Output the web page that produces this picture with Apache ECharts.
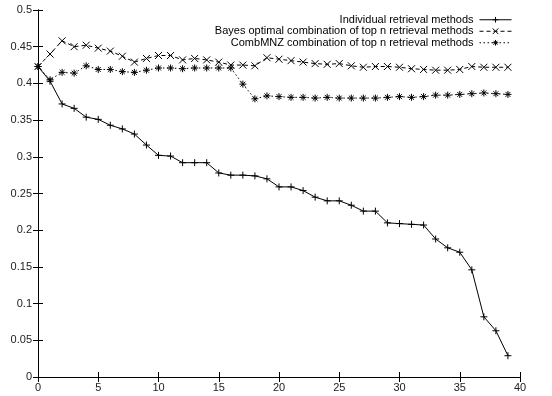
<!DOCTYPE html>
<html>
<head>
<meta charset="utf-8">
<script src="https://cdn.jsdelivr.net/npm/echarts@6/dist/echarts.min.js"></script>
<style>html,body{margin:0;padding:0;background:#fff}#c{width:552px;height:396px}</style>
</head>
<body>
<div id="c"></div>
<script>
var xValues = [0,1,2,3,4,5,6,7,8,9,10,11,12,13,14,15,16,17,18,19,20,21,22,23,24,25,26,27,28,29,30,31,32,33,34,35,36,37,38,39];
var individual = [0.423,0.403,0.372,0.366,0.354,0.351,0.343,0.338,0.331,0.316,0.302,0.301,0.292,0.292,0.292,0.278,0.275,0.275,0.274,0.270,0.259,0.259,0.254,0.245,0.240,0.240,0.234,0.226,0.226,0.210,0.209,0.208,0.207,0.188,0.176,0.170,0.146,0.082,0.063,0.029];
var bayes = [0.423,0.440,0.458,0.450,0.452,0.448,0.444,0.437,0.429,0.434,0.438,0.438,0.432,0.434,0.432,0.429,0.425,0.425,0.424,0.435,0.433,0.431,0.429,0.427,0.426,0.427,0.424,0.422,0.423,0.423,0.422,0.420,0.419,0.418,0.418,0.419,0.423,0.422,0.422,0.422];
var combMNZ = [0.423,0.405,0.415,0.414,0.424,0.419,0.419,0.416,0.415,0.418,0.421,0.421,0.420,0.421,0.421,0.421,0.421,0.399,0.379,0.383,0.382,0.381,0.381,0.380,0.381,0.380,0.380,0.380,0.380,0.381,0.382,0.381,0.382,0.384,0.384,0.385,0.386,0.387,0.386,0.385];
var seriesNames = ['Individual retrieval methods','Bayes optimal combination of top n retrieval methods','CombMNZ combination of top n retrieval methods'];

function pairs(arr){ return arr.map(function(v,i){ return [xValues[i], v]; }); }

var FONT = 'Liberation Sans';
var plusPath = 'path://M0,5L10,5M5,0L5,10';
var crossPath = 'path://M1,1L9,9M9,1L1,9';
var starPath = 'path://M0,5L10,5M5,0L5,10M1.5,1.5L8.5,8.5M8.5,1.5L1.5,8.5';

function mkSeries(name, data, symbol, dash){
  return {
    name: name, type: 'line', data: pairs(data),
    symbol: symbol, symbolSize: 7, showSymbol: true,
    itemStyle: {color: '#000', borderColor: '#000', borderWidth: 1},
    lineStyle: {color: '#000', width: 1, type: dash},
    emphasis: {disabled: true}, animation: false
  };
}

var axisLineStyle = {lineStyle: {color: '#000', width: 1}};
var chart = echarts.init(document.getElementById('c'), null, {renderer: 'canvas'});
chart.setOption({
  backgroundColor: '#fff',
  animation: false,
  grid: {left: 38, right: 32, top: 10, bottom: 19},
  legend: {
    orient: 'vertical', right: 40, top: 14, align: 'right', padding: 0,
    itemWidth: 32, itemHeight: 7, itemGap: 0,
    symbolRotate: 0,
    lineStyle: {width: 1},
    itemStyle: {borderWidth: 1, borderColor: '#000', color: '#000'},
    textStyle: {fontFamily: FONT, fontSize: 11, lineHeight: 11.5, color: '#000', padding: [0, 1, 0, 0]},
    data: seriesNames
  },
  xAxis: [{
    type: 'value', min: 0, max: 40, interval: 5, position: 'bottom',
    axisLine: axisLineStyle,
    axisTick: {inside: true, length: 5, lineStyle: {color: '#000'}},
    axisLabel: {fontFamily: FONT, fontSize: 11, color: '#222', margin: 5},
    splitLine: {show: false}
  },{
    type: 'value', min: 0, max: 40, interval: 5, position: 'top',
    axisLine: axisLineStyle,
    axisTick: {inside: true, length: 5, lineStyle: {color: '#000'}},
    axisLabel: {show: false}, splitLine: {show: false}
  }],
  yAxis: [{
    type: 'value', min: 0, max: 0.5, interval: 0.05, position: 'left',
    axisLine: {show: true, lineStyle: {color: '#000', width: 1}},
    axisTick: {show: true, inside: true, length: 5, lineStyle: {color: '#000'}},
    axisLabel: {fontFamily: FONT, fontSize: 11, color: '#222', margin: 6,
      formatter: function(v){ return String(parseFloat(v.toFixed(2))); }},
    splitLine: {show: false}
  },{
    type: 'value', min: 0, max: 0.5, interval: 0.05, position: 'right',
    axisLine: {show: true, lineStyle: {color: '#000', width: 1}},
    axisTick: {show: true, inside: true, length: 5, lineStyle: {color: '#000'}},
    axisLabel: {show: false}, splitLine: {show: false}
  }],
  series: [
    mkSeries(seriesNames[0], individual, plusPath, 'solid'),
    mkSeries(seriesNames[1], bayes, crossPath, [4, 3]),
    mkSeries(seriesNames[2], combMNZ, starPath, [1.5, 2.5])
  ]
});
</script>
</body>
</html>
